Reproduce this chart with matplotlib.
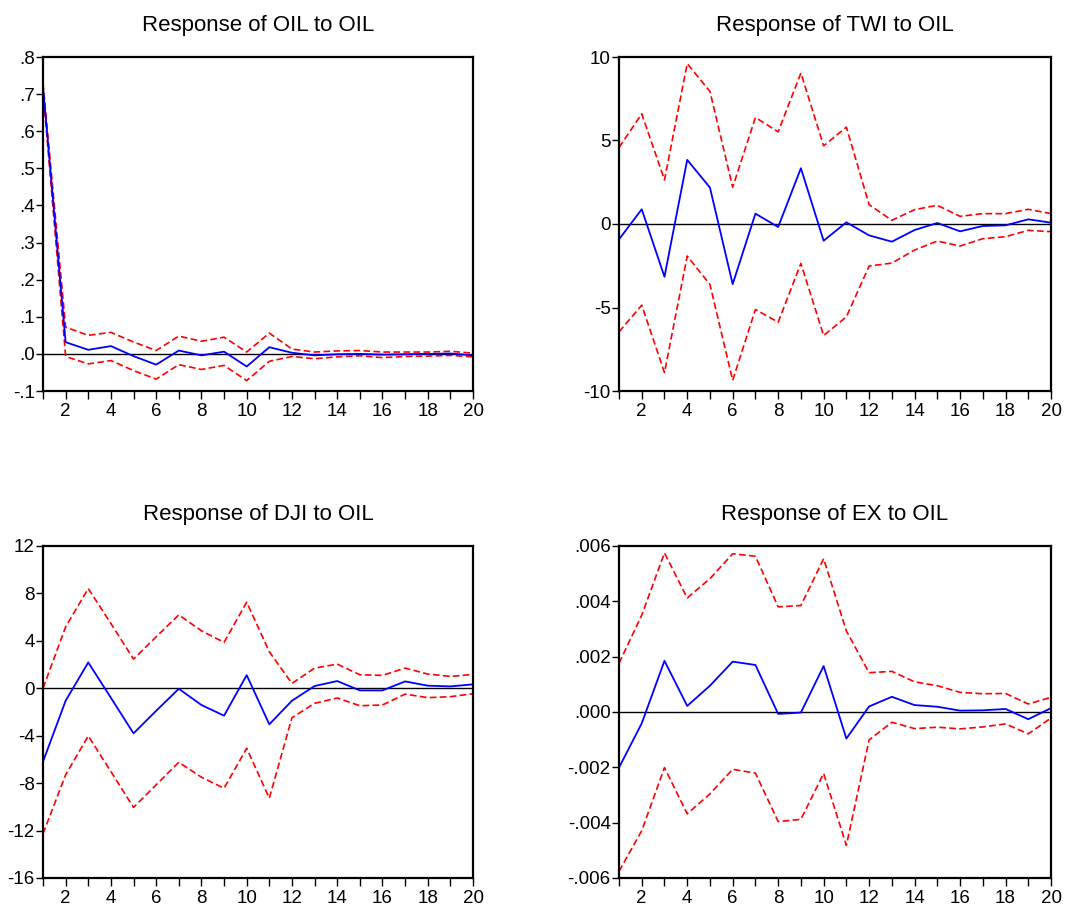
import numpy as np
import matplotlib.pyplot as plt
from matplotlib.ticker import FuncFormatter, MultipleLocator

plt.rcParams['font.family'] = ['Liberation Sans', 'DejaVu Sans']

periods = np.arange(1, 21)

# Response of OIL to OIL
oil_resp = [0.72, 0.0315, 0.011, 0.021, -0.006, -0.029, 0.009, -0.004, 0.006, -0.034,
            0.018, 0.003, -0.004, -0.001, 0.0, -0.002, -0.001, 0.0, 0.001, -0.004]
oil_up = [0.73, 0.072, 0.05, 0.058, 0.032, 0.009, 0.048, 0.034, 0.045, 0.005,
          0.056, 0.013, 0.005, 0.008, 0.009, 0.005, 0.005, 0.005, 0.007, 0.002]
oil_lo = [0.71, -0.007, -0.027, -0.018, -0.045, -0.068, -0.029, -0.042, -0.031, -0.072,
          -0.02, -0.007, -0.013, -0.008, -0.005, -0.01, -0.007, -0.006, -0.004, -0.008]

# Response of TWI to OIL
twi_resp = [-0.92, 0.88, -3.16, 3.84, 2.18, -3.6, 0.62, -0.18, 3.34, -1.0,
            0.1, -0.68, -1.06, -0.36, 0.06, -0.44, -0.12, -0.08, 0.28, 0.08]
twi_up = [4.58, 6.6, 2.64, 9.6, 7.94, 2.2, 6.38, 5.52, 9.04, 4.68,
          5.8, 1.16, 0.22, 0.86, 1.12, 0.46, 0.62, 0.62, 0.88, 0.62]
twi_lo = [-6.46, -4.86, -8.9, -1.92, -3.62, -9.36, -5.12, -5.88, -2.36, -6.68,
          -5.56, -2.52, -2.34, -1.56, -1.02, -1.32, -0.88, -0.76, -0.38, -0.46]

# Response of DJI to OIL
dji_resp = [-6.19, -1.05, 2.18, -0.8, -3.8, -1.9, -0.04, -1.41, -2.31, 1.11,
            -3.04, -1.05, 0.19, 0.61, -0.18, -0.18, 0.58, 0.22, 0.16, 0.33]
dji_up = [0.0, 5.18, 8.41, 5.46, 2.46, 4.34, 6.19, 4.85, 3.87, 7.26,
          3.08, 0.41, 1.7, 2.04, 1.14, 1.09, 1.7, 1.2, 1.0, 1.17]
dji_lo = [-12.27, -7.3, -4.02, -7.02, -10.05, -8.14, -6.24, -7.5, -8.43, -5.06,
          -9.27, -2.48, -1.27, -0.82, -1.47, -1.41, -0.49, -0.79, -0.71, -0.46]

# Response of EX to OIL
ex_resp = [-0.00201, -0.00041, 0.00185, 0.00022, 0.00095, 0.00182, 0.0017, -0.00007, -0.00002, 0.00166,
           -0.00096, 0.0002, 0.00055, 0.00025, 0.00019, 0.00005, 0.00006, 0.00011, -0.00026, 0.00014]
ex_up = [0.00176, 0.0035, 0.00575, 0.00412, 0.00482, 0.00572, 0.00563, 0.0038, 0.00385, 0.00554,
         0.00293, 0.00142, 0.00147, 0.00109, 0.00095, 0.00071, 0.00066, 0.00067, 0.00029, 0.00053]
ex_lo = [-0.00576, -0.00429, -0.00201, -0.00368, -0.00296, -0.00207, -0.00221, -0.00396, -0.00388, -0.00222,
         -0.00482, -0.00101, -0.00037, -0.0006, -0.00055, -0.00061, -0.00054, -0.00043, -0.00079, -0.00022]


def fmt_dec(nd):
    # eviews style: no leading zero (.8, -.1, .000)
    def f(v, pos):
        s = f"{v:.{nd}f}"
        if s.startswith('-0.'):
            s = '-' + s[2:]
        elif s.startswith('0.'):
            s = s[1:]
        if s.startswith('-') and float(s) == 0:
            s = s[1:]
        return s
    return f


def fmt_int(v, pos):
    return f"{int(round(v))}"


def fmt_x(v, pos):
    v = int(round(v))
    return str(v) if v % 2 == 0 else ''


panels = [
    ("Response of OIL to OIL", oil_resp, oil_up, oil_lo, (-0.1, 0.8), 0.1, fmt_dec(1)),
    ("Response of TWI to OIL", twi_resp, twi_up, twi_lo, (-10, 10), 5, fmt_int),
    ("Response of DJI to OIL", dji_resp, dji_up, dji_lo, (-16, 12), 4, fmt_int),
    ("Response of EX to OIL", ex_resp, ex_up, ex_lo, (-0.006, 0.006), 0.002, fmt_dec(3)),
]

fig = plt.figure(figsize=(10.78, 9.08), dpi=100)
W, H = 1078, 908
boxes = [(43, 57, 430, 334), (619, 57, 432, 334), (43, 546, 430, 332), (619, 546, 432, 332)]

for (title, resp, up, lo, ylim, step, yfmt), (x0, y0, w, h) in zip(panels, boxes):
    ax = fig.add_axes([x0 / W, 1 - (y0 + h) / H, w / W, h / H])
    ax.axhline(0, color='black', lw=1.0)
    ax.plot(periods, up, color='red', ls=(0, (4, 2)), lw=1.2)
    ax.plot(periods, lo, color='red', ls=(0, (4, 2)), lw=1.2)
    ax.plot(periods, resp, color='blue', lw=1.3)
    ax.set_xlim(1, 20)
    ax.set_ylim(*ylim)
    ax.xaxis.set_major_locator(MultipleLocator(1))
    ax.xaxis.set_major_formatter(FuncFormatter(fmt_x))
    ax.yaxis.set_major_locator(MultipleLocator(step))
    ax.yaxis.set_major_formatter(FuncFormatter(yfmt))
    ax.tick_params(axis='x', direction='out', length=6, width=1, labelsize=13.5, pad=2.5)
    ax.tick_params(axis='y', direction='out', length=5, width=1, labelsize=13.5, pad=1)
    for sp in ax.spines.values():
        sp.set_linewidth(1.6)
    ax.set_title(title, fontsize=16, pad=19)

fig.savefig('out.png', dpi=100)
